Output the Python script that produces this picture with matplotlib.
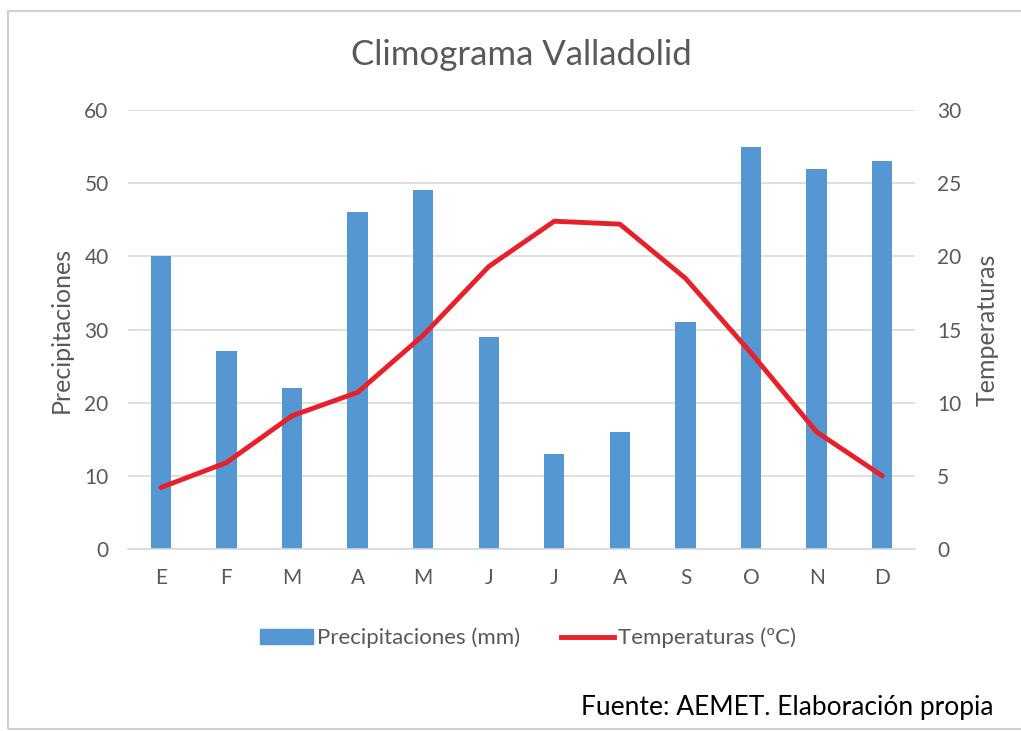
import matplotlib
matplotlib.use("Agg")
import matplotlib.pyplot as plt
from matplotlib.patches import Rectangle
from matplotlib.lines import Line2D
from matplotlib.patches import Patch

months = ["E", "F", "M", "A", "M", "J", "J", "A", "S", "O", "N", "D"]
precip = [40, 27, 22, 46, 49, 29, 13, 16, 31, 55, 52, 53]
temp = [4.2, 5.9, 9.1, 10.7, 14.6, 19.3, 22.4, 22.2, 18.5, 13.4, 8.0, 5.0]

title = "Climograma Valladolid"
ylabel_left = "Precipitaciones"
ylabel_right = "Temperaturas"
legend_labels = ["Precipitaciones (mm)", "Temperaturas (ºC)"]
source = "Fuente: AEMET. Elaboración propia"

plt.rcParams['font.family'] = ['Lato', 'DejaVu Sans']

bar_color = "#5497D2"
line_color = "#E8202A"
text_color = "#595959"
grid_color = "#D9D9D9"

fig = plt.figure(figsize=(10.21, 7.31), dpi=100)
fig.patches.append(Rectangle((8/1021, 2/731), 1.2, (718)/731, transform=fig.transFigure,
                             fill=False, edgecolor="#D0D0D0", linewidth=1.5))

ax = fig.add_axes([128/1021, (731-549)/731, (915-128)/1021, (549-110)/731])
x = list(range(len(months)))
ax.bar(x, precip, width=0.31, color=bar_color, zorder=2)
ax.set_xlim(-0.5, len(months) - 0.5)
ax.set_ylim(0, 60)
ax.set_yticks(range(0, 61, 10))
ax.set_xticks(x)
ax.set_xticklabels(months)
ax.grid(axis='y', color=grid_color, linewidth=1.2, zorder=0)
for s in ["top", "right", "left"]:
    ax.spines[s].set_visible(False)
ax.spines["bottom"].set_color(grid_color)
ax.spines["bottom"].set_linewidth(1.2)
ax.tick_params(length=0, labelsize=15, colors=text_color)
ax.tick_params(axis='x', pad=14)
ax.tick_params(axis='y', pad=14)
ax.set_ylabel(ylabel_left, fontsize=18, color=text_color, labelpad=8)

ax2 = ax.twinx()
ax2.plot(x, temp, color=line_color, linewidth=3.5, zorder=3, solid_capstyle='round')
ax2.set_ylim(0, 30)
ax2.set_yticks(range(0, 31, 5))
for s in ax2.spines.values():
    s.set_visible(False)
ax2.tick_params(length=0, labelsize=15, colors=text_color, pad=16)
ax2.set_ylabel(ylabel_right, fontsize=18, color=text_color, labelpad=10)

fig.text(521/1021, 1 - 55/731, title, ha='center', va='center', fontsize=25, color=text_color)

handles = [Patch(color=bar_color), Line2D([0], [0], color=line_color, linewidth=3.5)]
fig.legend(handles, legend_labels, loc='center', bbox_to_anchor=(528/1021, 1 - 638/731),
           ncol=2, frameon=False, fontsize=16, labelcolor=text_color,
           handlelength=2.4, handletextpad=0.2, columnspacing=1.8)

fig.text(993/1021, 1 - 708/731, source, ha='right', va='center', fontsize=19, color='black')

fig.savefig("out.png", dpi=100, facecolor='white')
